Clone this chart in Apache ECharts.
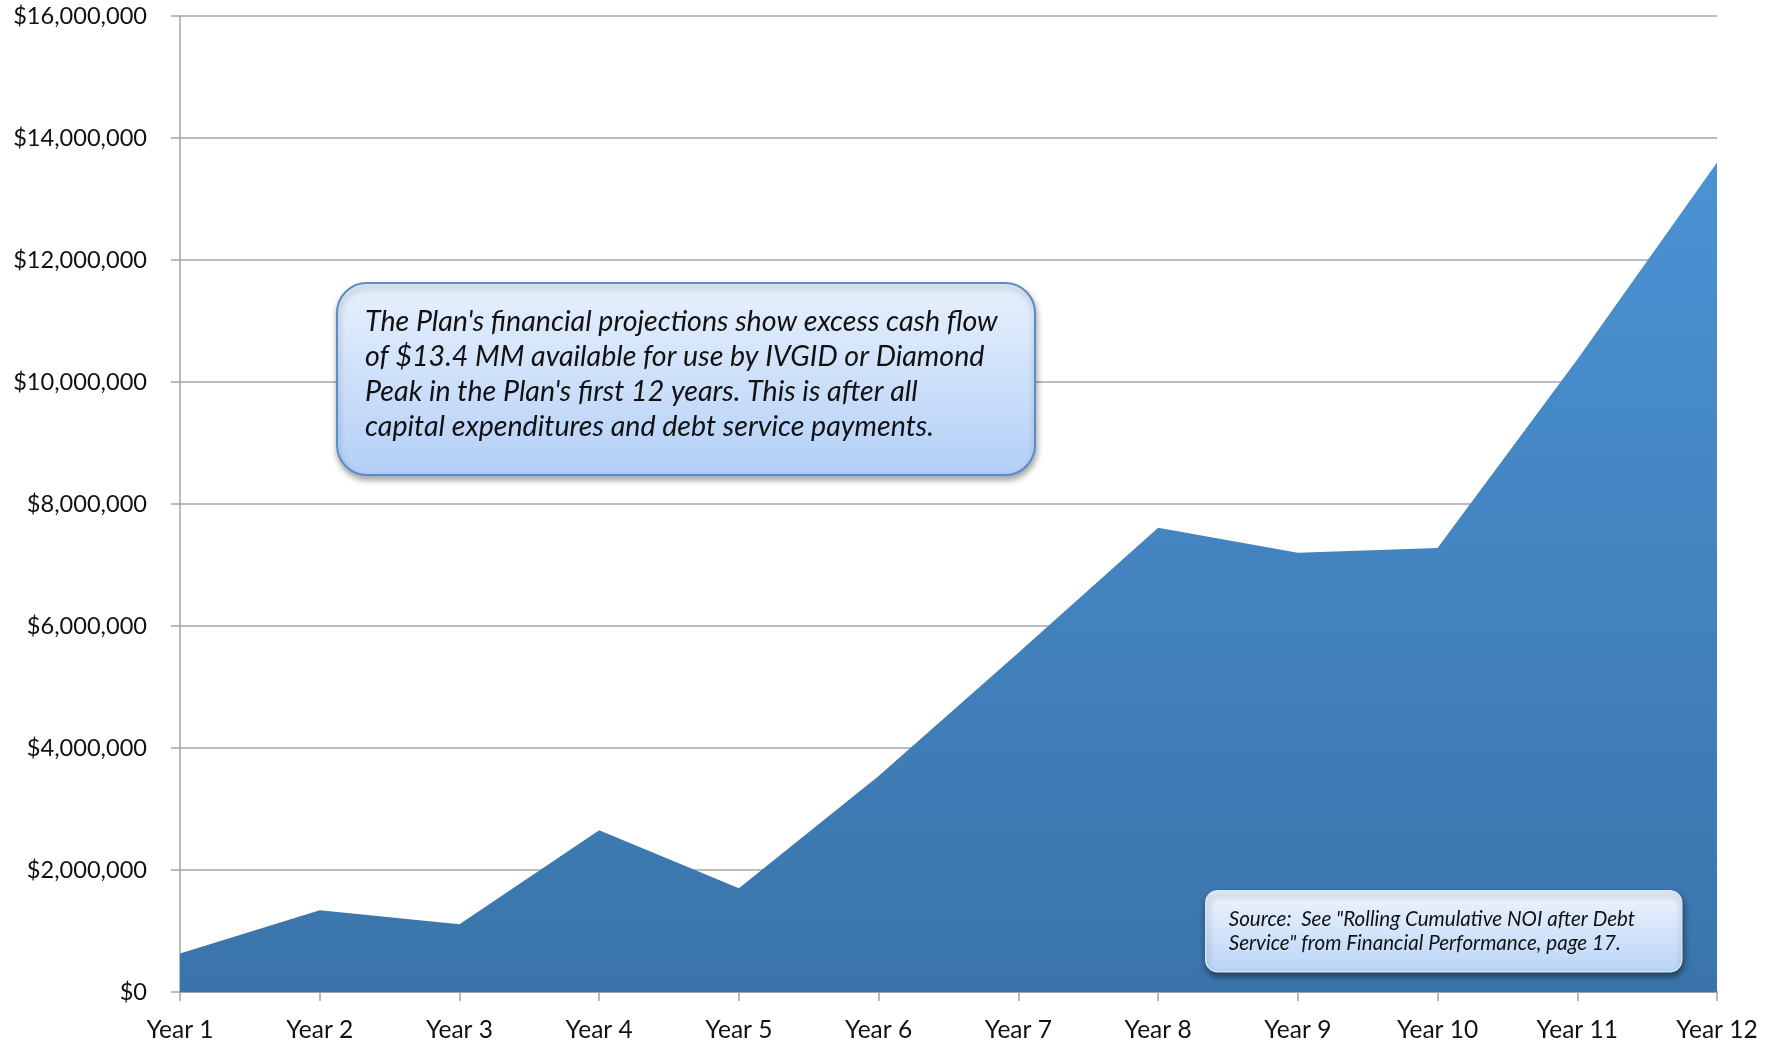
<!DOCTYPE html>
<html>
<head>
<meta charset="utf-8">
<script src="https://cdn.jsdelivr.net/npm/echarts@6/dist/echarts.min.js"></script>
<style>
  html, body { margin: 0; padding: 0; background: #ffffff; }
  #chart { width: 1773px; height: 1043px; }
</style>
</head>
<body>
<div id="chart"></div>
<script>
// ---- Data ----
const categories = ['Year 1', 'Year 2', 'Year 3', 'Year 4', 'Year 5', 'Year 6',
                    'Year 7', 'Year 8', 'Year 9', 'Year 10', 'Year 11', 'Year 12'];
const cumulativeCashFlow = [630000, 1340000, 1110000, 2650000, 1700000, 3540000,
                            5560000, 7610000, 7200000, 7280000, 10370000, 13600000];
const yAxisMin = 0;
const yAxisMax = 16000000;
const yAxisInterval = 2000000;
const calloutLines = [
  "The Plan's financial projections show excess cash flow",
  "of $13.4 MM available for use by IVGID or Diamond",
  "Peak in the Plan's first 12 years. This is after all",
  "capital expenditures and debt service payments."
];
const sourceLines = [
  'Source:  See "Rolling Cumulative NOI after Debt',
  'Service" from Financial Performance, page 17.'
];

function fmtMoney(v) {
  return '$' + String(Math.round(v)).replace(/\B(?=(\d{3})+(?!\d))/g, ',');
}

const chart = echarts.init(document.getElementById('chart'), null, { renderer: 'canvas' });
const FONT = 'Lato, "Open Sans", "DejaVu Sans", sans-serif';

chart.setOption({
  backgroundColor: '#ffffff',
  animation: false,
  grid: { left: 180, right: 56, top: 16, bottom: 51, containLabel: false },
  xAxis: {
    type: 'category',
    data: categories,
    boundaryGap: false,
    axisLine: { show: true, lineStyle: { color: '#a3a3a3', width: 2 } },
    axisTick: { show: true, alignWithLabel: true, length: 9, lineStyle: { color: '#a3a3a3', width: 1.5 } },
    axisLabel: { color: '#111', fontFamily: FONT, fontSize: 24.5, margin: 26, interval: 0 },
    splitLine: { show: false }
  },
  yAxis: {
    type: 'value',
    min: yAxisMin,
    max: yAxisMax,
    interval: yAxisInterval,
    axisLine: { show: true, lineStyle: { color: '#a3a3a3', width: 1.5 } },
    axisTick: { show: true, length: 9, lineStyle: { color: '#a3a3a3', width: 1.5 } },
    axisLabel: { color: '#111', fontFamily: FONT, fontSize: 23.6, margin: 33, formatter: fmtMoney },
    splitLine: { show: true, lineStyle: { color: '#a6a6a6', width: 1.5 } }
  },
  series: [{
    type: 'line',
    data: cumulativeCashFlow,
    symbol: 'none',
    lineStyle: { width: 0 },
    areaStyle: {
      opacity: 1,
      color: new echarts.graphic.LinearGradient(0, 0, 0, 1, [
        { offset: 0, color: '#4b92d4' },
        { offset: 1, color: '#3a74aa' }
      ])
    },
    z: 2
  }],
  graphic: [
    {
      type: 'group',
      left: 336,
      top: 282,
      z: 100,
      children: [
        {
          type: 'rect',
          z: 100,
          shape: { x: 0, y: 0, width: 698, height: 192, r: 30 },
          style: {
            fill: new echarts.graphic.LinearGradient(0, 0, 0, 1, [
              { offset: 0, color: '#e8f1fd' },
              { offset: 1, color: '#b2cff7' }
            ]),
            stroke: '#5b8cc8',
            lineWidth: 2,
            shadowBlur: 6,
            shadowOffsetX: 1,
            shadowOffsetY: 4,
            shadowColor: 'rgba(0,0,0,0.35)'
          }
        },
        {
          type: 'text',
          z: 101,
          x: 28,
          y: 21,
          style: {
            text: calloutLines.join('\n'),
            fontFamily: FONT,
            fontStyle: 'italic',
            fontSize: 28.6,
            lineHeight: 35,
            fill: '#111'
          }
        }
      ]
    },
    {
      type: 'group',
      left: 1205,
      top: 890,
      z: 100,
      children: [
        {
          type: 'rect',
          z: 100,
          shape: { x: 0, y: 0, width: 476, height: 81, r: 12 },
          style: {
            fill: new echarts.graphic.LinearGradient(0, 0, 0, 1, [
              { offset: 0, color: '#eef4fd' },
              { offset: 1, color: '#bad5f8' }
            ]),
            stroke: '#d5e4f8',
            lineWidth: 1.5,
            shadowBlur: 6,
            shadowOffsetX: 1,
            shadowOffsetY: 4,
            shadowColor: 'rgba(0,0,0,0.45)'
          }
        },
        {
          type: 'text',
          z: 101,
          x: 23,
          y: 17,
          style: {
            text: sourceLines.join('\n'),
            fontFamily: FONT,
            fontStyle: 'italic',
            fontSize: 20.6,
            lineHeight: 24,
            fill: '#111'
          }
        }
      ]
    }
  ]
});
</script>
</body>
</html>
